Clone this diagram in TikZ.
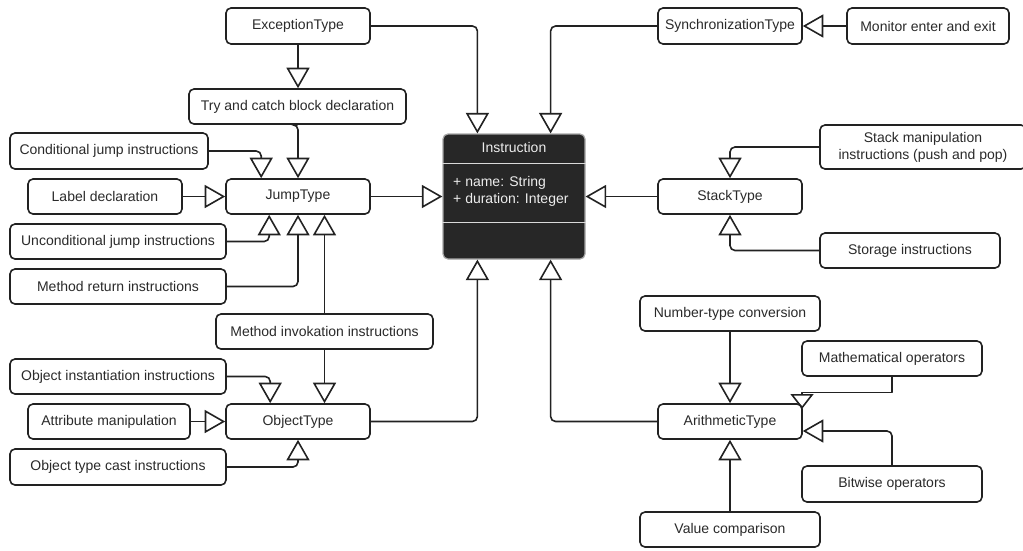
\documentclass[tikz,border=0pt]{standalone}
\usepackage{fontspec}
\setmainfont{Liberation Sans}
\usetikzlibrary{arrows.meta}
\definecolor{ln}{HTML}{222222}
\definecolor{tx}{HTML}{2A2A2A}
\definecolor{dk}{HTML}{272727}
\begin{document}
\begin{tikzpicture}[x=1pt,y=-1pt,
 box/.style={draw=ln, line width=1.6pt, rounded corners=5pt, fill=white, text=tx, inner sep=0pt,
   font=\fontsize{14}{17}\selectfont, align=center},
 conn/.style={draw=ln, line width=1.6pt, rounded corners=5pt},
 arr/.style={conn, -{Triangle[open,length=20.5pt,width=23pt]}},
 wtext/.style={text=white!93!black, inner sep=0pt, font=\fontsize{14}{17}\selectfont},
]
\useasboundingbox (0,0) rectangle (1023,550);
\clip (0,0) rectangle (1023,550);

% left side
\node[box, minimum width=144pt, minimum height=36pt] (exc) at (298,26) {ExceptionType};
\node[box, minimum width=217pt, minimum height=35pt] (try) at (297.5,106.5) {Try and catch block declaration};
\node[box, minimum width=198pt, minimum height=36pt] (cond) at (109,151) {Conditional jump instructions};
\node[box, minimum width=154pt, minimum height=35pt] (label) at (105,196.5) {Label declaration};
\node[box, minimum width=144pt, minimum height=35pt] (jump) at (298,196.5) {JumpType};
\node[box, minimum width=216pt, minimum height=35pt] (uncond) at (118,241.5) {Unconditional jump instructions};
\node[box, minimum width=216pt, minimum height=35pt] (mret) at (118,286.5) {Method return instructions};
\node[box, minimum width=217pt, minimum height=35pt] (minv) at (324.5,331.5) {Method invokation instructions};
\node[box, minimum width=216pt, minimum height=35pt] (oinst) at (118,376.5) {Object instantiation instructions};
\node[box, minimum width=162pt, minimum height=35pt] (attr) at (109,421.5) {Attribute manipulation};
\node[box, minimum width=144pt, minimum height=35pt] (obj) at (298,421.5) {ObjectType};
\node[box, minimum width=216pt, minimum height=36pt] (cast) at (118,467) {Object type cast instructions};

% central class
\node[draw=black!35, fill=dk, rounded corners=5pt, line width=1.2pt, minimum width=142pt,
      minimum height=125pt, inner sep=0pt] (instr) at (514,196.5) {};
\draw[white!85!black, line width=1.6pt] ([yshift=-30pt]instr.north west) -- ([yshift=-30pt]instr.north east);
\draw[white!85!black, line width=1.6pt] ([yshift=-89pt]instr.north west) -- ([yshift=-89pt]instr.north east);
\node[wtext] (ititle) at (514,147) {Instruction};
\node[wtext, anchor=west, align=left] (iattr) at (453,191.5) {+ name: String\\+ duration: Integer};

% right side
\node[box, minimum width=144pt, minimum height=36pt] (sync) at (730,26) {SynchronizationType};
\node[box, minimum width=162pt, minimum height=36pt] (mon) at (928,26) {Monitor enter and exit};
\node[box, minimum width=206pt, minimum height=44pt] (stackm) at (923,147) {Stack manipulation\\instructions (push and pop)};
\node[box, minimum width=144pt, minimum height=35pt] (stack) at (730,196.5) {StackType};
\node[box, minimum width=180pt, minimum height=35pt] (stor) at (910,250.5) {Storage instructions};
\node[box, minimum width=180pt, minimum height=35pt] (numc) at (730,313.5) {Number-type conversion};
\node[box, minimum width=180pt, minimum height=35pt] (mops) at (892,358.5) {Mathematical operators};
\node[box, minimum width=144pt, minimum height=35pt] (arith) at (730,421.5) {ArithmeticType};
\node[box, minimum width=180pt, minimum height=36pt] (bit) at (892,484) {Bitwise operators};
\node[box, minimum width=180pt, minimum height=35pt] (valc) at (730,529.5) {Value comparison};

% connectors
\draw[arr] (exc.south) -- (exc.south |- try.north);
\draw[arr] (exc.east) -| ([xshift=35pt]instr.north west);
\draw[arr] (try.south) -- (try.south -| jump.north) -- (jump.north);
\draw[arr] (cond.east) -| ([xshift=36pt]jump.north west);
\draw[arr] (label.east) -- (jump.west);
\draw[arr] (uncond.east) -| ([xshift=44pt]jump.south west);
\draw[arr] (mret.east) -| (jump.south);
\draw[arr] (minv.north) -- (minv.north |- jump.south);
\draw[arr] (minv.south) -- (minv.south |- obj.north);
\draw[arr] (oinst.east) -| ([xshift=45pt]obj.north west);
\draw[arr] (attr.east) -- (obj.west);
\draw[arr] (cast.east) -| (obj.south);
\draw[arr] (jump.east) -- (instr.west);
\draw[arr] (obj.east) -| ([xshift=35pt]instr.south west);
\draw[arr] (sync.west) -| ([xshift=-35pt]instr.north east);
\draw[arr] (mon.west) -- (sync.east);
\draw[arr] (stack.west) -- (instr.east);
\draw[arr] (stackm.west) -| (stack.north);
\draw[arr] (stor.west) -| (stack.south);
\draw[arr] (arith.west) -| ([xshift=-35pt]instr.south east);
\draw[arr] (numc.south) -- (arith.north);
\coordinate (mb) at (892,392.5);
\coordinate (mc) at (802,392.5);
\coordinate (mt) at (802,409);
\draw[draw=ln, line width=1.6pt, line join=round, -{Triangle[open,length=15pt,width=23pt]}]
  (mops.south) -- (mb) -- (mc) -- (mt);
\draw[arr] (bit.north) |- ([yshift=-9.5pt]arith.east);
\draw[arr] (valc.north) -- (arith.south);
\end{tikzpicture}
\end{document}
